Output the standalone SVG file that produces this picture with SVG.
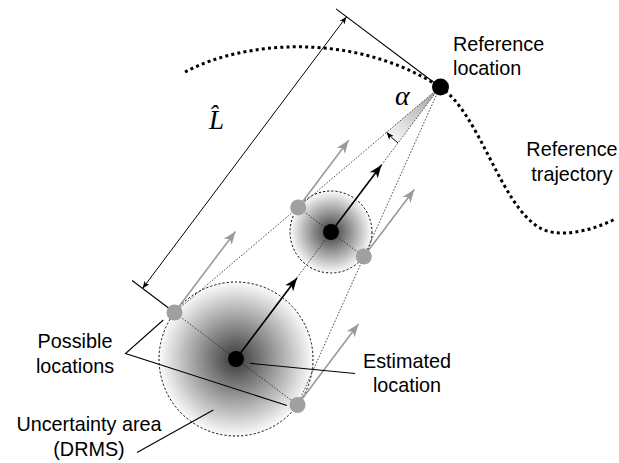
<svg xmlns="http://www.w3.org/2000/svg" width="619" height="463" viewBox="0 0 619 463">
<style>
.lbl{font-family:"Liberation Sans",Arial,sans-serif;font-size:19.8px;fill:#000}
.mid{text-anchor:middle}
.math{font-family:"Liberation Serif","Times New Roman",serif;font-style:italic;fill:#000}
.traj{fill:none;stroke:#000;stroke-width:3;stroke-dasharray:3 3.2}
.dot{fill:none;stroke:#222;stroke-width:0.8;stroke-dasharray:1.6 1.6}
.area{stroke:#000;stroke-width:1;stroke-dasharray:2.2 2}
.solid{fill:none;stroke:#000;stroke-width:1.1}
.barr{fill:none;stroke:#000;stroke-width:1.6;marker-end:url(#ahB)}
.garr{fill:none;stroke:#9a9a9a;stroke-width:1.6;marker-end:url(#ahG)}
.gdot{fill:#a0a0a0}
.bdot{fill:#000}
</style>
<defs>
<radialGradient id="unc" cx="0.5" cy="0.5" r="0.5">
<stop offset="0" stop-color="#383838"/>
<stop offset="1" stop-color="#fbfbfb"/>
</radialGradient>
<linearGradient id="wedge" gradientUnits="userSpaceOnUse" x1="440" y1="87" x2="392" y2="138">
<stop offset="0" stop-color="#999"/>
<stop offset="1" stop-color="#f6f6f6"/>
</linearGradient>
<marker id="ahB" viewBox="-14 -6 15 12" refX="0" refY="0" markerWidth="15" markerHeight="12" markerUnits="userSpaceOnUse" orient="auto">
<path d="M0,0 L-13,-5 L-9.5,0 L-13,5 z" fill="#000"/>
</marker>
<marker id="ahG" viewBox="-14 -6 15 12" refX="0" refY="0" markerWidth="15" markerHeight="12" markerUnits="userSpaceOnUse" orient="auto">
<path d="M0,0 L-13,-5 L-9.5,0 L-13,5 z" fill="#9a9a9a"/>
</marker>
<marker id="ahS" viewBox="-8 -4 9 8" refX="0" refY="0" markerWidth="9" markerHeight="8" markerUnits="userSpaceOnUse" orient="auto-start-reverse">
<path d="M0,0 L-7.5,-3 L-5.5,0 L-7.5,3 z" fill="#000"/>
</marker>
</defs>

<g id="reference-trajectory">
<path class="traj" d="M185,72 C245,40 355,32 440,87 C480,113 500,205 540,228 C557,238 590,232 615,219"/>
</g>

<g id="alpha-wedge">
<path d="M440,87 L397.9,142.9 A70,70 0 0 1 386.6,132.2 Z" fill="url(#wedge)"/>
</g>

<g id="uncertainty-large">
<circle cx="236" cy="359" r="77" fill="url(#unc)" class="area"/>
</g>
<g id="uncertainty-mid">
<circle cx="331" cy="232" r="41" fill="url(#unc)" class="area"/>
</g>

<g id="connectors">
<line class="dot" x1="440" y1="87" x2="236" y2="359"/>
<line class="dot" x1="440" y1="87" x2="174.5" y2="312.5"/>
<line class="dot" x1="440" y1="87" x2="297.5" y2="405"/>
<line class="dot" x1="174.5" y1="312.5" x2="297.5" y2="405"/>
<line class="dot" x1="298.2" y1="207.4" x2="363.8" y2="256.6"/>
<line class="solid" x1="440" y1="87" x2="336" y2="8.9"/>
<line class="solid" x1="174.5" y1="312.5" x2="132.1" y2="280.5"/>
<line fill="none" stroke="#000" stroke-width="1" x1="346.5" y1="16.7" x2="142.5" y2="288.5" marker-start="url(#ahS)" marker-end="url(#ahS)"/>
<path fill="none" stroke="#000" stroke-width="1" d="M397.9,142.9 A70,70 0 0 1 386.6,132.2" marker-end="url(#ahS)"/>
<line class="garr" x1="174.5" y1="312.5" x2="235.5" y2="231.4"/>
<line class="garr" x1="297.5" y1="405" x2="358.5" y2="323.9"/>
<line class="garr" x1="298.2" y1="207.4" x2="348.7" y2="140.3"/>
<line class="garr" x1="363.8" y1="256.6" x2="414.3" y2="189.5"/>
<line class="barr" x1="236" y1="359" x2="297" y2="277.9"/>
<line class="barr" x1="331" y1="232" x2="381.5" y2="164.9"/>
<polyline class="solid" points="163.3,320 125.5,353.5 287,405.5"/>
<line class="solid" x1="250" y1="363.3" x2="355" y2="373.5"/>
<line class="solid" x1="213.3" y1="410" x2="137" y2="452.5"/>
</g>

<g id="possible-locations">
<circle class="gdot" cx="174.5" cy="312.5" r="8"/>
<circle class="gdot" cx="297.5" cy="405" r="8"/>
<circle class="gdot" cx="298.2" cy="207.4" r="8"/>
<circle class="gdot" cx="363.8" cy="256.6" r="8"/>
</g>
<g id="estimated-locations">
<circle class="bdot" cx="236" cy="359" r="8"/>
<circle class="bdot" cx="331" cy="232" r="8"/>
</g>
<g id="reference-location">
<circle class="bdot" cx="440.5" cy="87" r="8.5"/>
</g>

<g id="labels">
<text class="lbl" x="453" y="50.5">Reference</text>
<text class="lbl" x="453" y="75">location</text>
<text class="lbl mid" x="572" y="156">Reference</text>
<text class="lbl mid" x="572" y="181">trajectory</text>
<text class="lbl mid" x="75" y="347.5">Possible</text>
<text class="lbl mid" x="75" y="372.5">locations</text>
<text class="lbl mid" x="407" y="367.5">Estimated</text>
<text class="lbl mid" x="407" y="392">location</text>
<text class="lbl mid" x="89" y="431">Uncertainty area</text>
<text class="lbl mid" x="89" y="456">(DRMS)</text>
<text class="math" x="209" y="128.5" font-size="27">L&#x302;</text>
<text class="math" x="395" y="105" font-size="28">α</text>
</g>
</svg>
